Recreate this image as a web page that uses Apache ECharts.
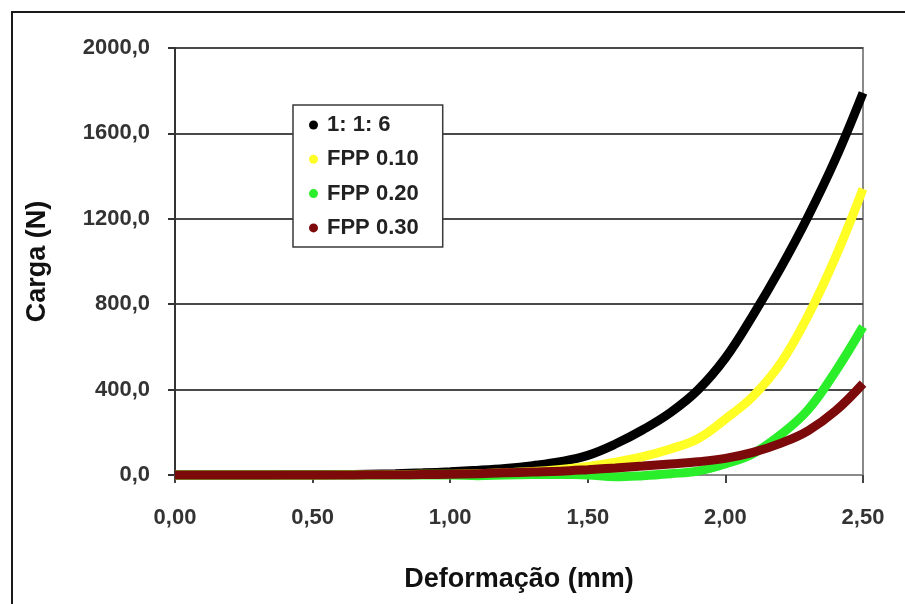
<!DOCTYPE html>
<html>
<head>
<meta charset="utf-8">
<script src="https://cdn.jsdelivr.net/npm/echarts@6/dist/echarts.min.js"></script>
<style>
  html, body { margin: 0; padding: 0; background: #fff; }
  #chart { width: 905px; height: 604px; }
</style>
</head>
<body>
<div id="chart"></div>
<script>
// Deformation (mm) sampled every 0.1 mm
const deformacao = [0.0, 0.1, 0.2, 0.3, 0.4, 0.5, 0.6, 0.7, 0.8, 0.9, 1.0, 1.1, 1.2, 1.3, 1.4, 1.5, 1.6, 1.7, 1.8, 1.9, 2.0, 2.1, 2.2, 2.3, 2.4, 2.5];

// Load (N) for each mix
const carga116   = [0, 0, 0, 0, 1, 1, 2, 4, 6, 10, 15, 22, 31, 44, 62, 92, 145, 212, 292, 398, 548, 748, 968, 1210, 1480, 1790];
const cargaFPP10 = [0, 0, 0, 0, 0, 0, 1, 1, 2, 3, 4, 6, 10, 16, 26, 40, 60, 86, 122, 170, 262, 368, 522, 745, 1020, 1340];
const cargaFPP20 = [0, 0, 0, 0, 0, 0, 0, 0, 0, 0, 0, -3, 0, 2, 3, 0, -8, -3, 6, 18, 52, 100, 188, 305, 485, 695];
const cargaFPP30 = [0, 0, 0, 0, 0, 0, 0, 1, 1, 2, 3, 6, 10, 14, 18, 25, 33, 42, 52, 62, 78, 106, 148, 207, 300, 428];

const nomes = ['1: 1: 6', 'FPP 0.10', 'FPP 0.20', 'FPP 0.30'];
const cores = ['#000000', '#ffff26', '#2bee2b', '#7d0a0a'];
const valores = [carga116, cargaFPP10, cargaFPP20, cargaFPP30];

const xTicks = ['0,00', '0,50', '1,00', '1,50', '2,00', '2,50'];
const yTicks = ['0,0', '400,0', '800,0', '1200,0', '1600,0', '2000,0'];

const pares = (ys) => ys.map((y, i) => [deformacao[i], y]);

const fonte = 'Liberation Sans, Arial, sans-serif';

const chart = echarts.init(document.getElementById('chart'), null, { renderer: 'canvas' });

chart.setOption({
  animation: false,
  backgroundColor: '#ffffff',
  textStyle: { fontFamily: fonte },
  grid: { left: 175, right: 42, top: 48, bottom: 129, show: true, borderColor: '#8a8a8a', borderWidth: 2, backgroundColor: 'transparent' },
  graphic: [{
    type: 'rect',
    shape: { x: 12, y: 12, width: 1000, height: 1000 },
    style: { fill: 'none', stroke: '#1a1a1a', lineWidth: 2 },
    silent: true,
    z: 0
  }],
  legend: {
    orient: 'vertical',
    left: 293,
    top: 105,
    padding: [9, 24, 8, 16],
    backgroundColor: '#ffffff',
    borderColor: '#3a3a3a',
    borderWidth: 1.5,
    borderRadius: 0,
    itemGap: 12.3,
    itemWidth: 9,
    itemHeight: 9,
    icon: 'circle',
    data: nomes,
    textStyle: { fontFamily: fonte, fontWeight: 'bold', fontSize: 22, color: '#222', lineHeight: 22, padding: [0, 0, 0, 4] },
    z: 10
  },
  xAxis: {
    type: 'value',
    min: 0,
    max: 2.5,
    interval: 0.5,
    name: 'Deformação (mm)',
    nameLocation: 'middle',
    nameGap: 91,
    nameTextStyle: { fontFamily: fonte, fontWeight: 'bold', fontSize: 27, color: '#111' },
    axisLine: { show: true, onZero: false, lineStyle: { color: '#8a8a8a', width: 2 } },
    axisTick: { show: true, inside: false, length: 8, lineStyle: { color: '#444', width: 2 } },
    axisLabel: {
      margin: 32,
      fontFamily: fonte, fontWeight: 'bold', fontSize: 22, color: '#333',
      formatter: (v) => xTicks[Math.round(v / 0.5)]
    },
    splitLine: { show: false }
  },
  yAxis: {
    type: 'value',
    min: 0,
    max: 2000,
    interval: 400,
    name: 'Carga (N)',
    nameLocation: 'middle',
    nameGap: 124,
    nameRotate: 90,
    nameTextStyle: { fontFamily: fonte, fontWeight: 'bold', fontSize: 27, color: '#111' },
    axisLine: { show: true, lineStyle: { color: '#333', width: 2 } },
    axisTick: { show: true, inside: false, length: 7, lineStyle: { color: '#333', width: 2 } },
    axisLabel: {
      margin: 25,
      fontFamily: fonte, fontWeight: 'bold', fontSize: 22, color: '#333',
      formatter: (v) => yTicks[Math.round(v / 400)]
    },
    splitLine: { show: true, lineStyle: { color: '#4a4a4a', width: 2 } }
  },
  series: nomes.map((nome, k) => ({
    name: nome,
    type: 'line',
    data: pares(valores[k]),
    smooth: 0.4,
    showSymbol: false,
    symbol: 'circle',
    symbolSize: 8,
    itemStyle: { color: cores[k] },
    lineStyle: { color: cores[k], width: 9 },
    z: 3 + k,
    clip: false
  }))
});
</script>
</body>
</html>
